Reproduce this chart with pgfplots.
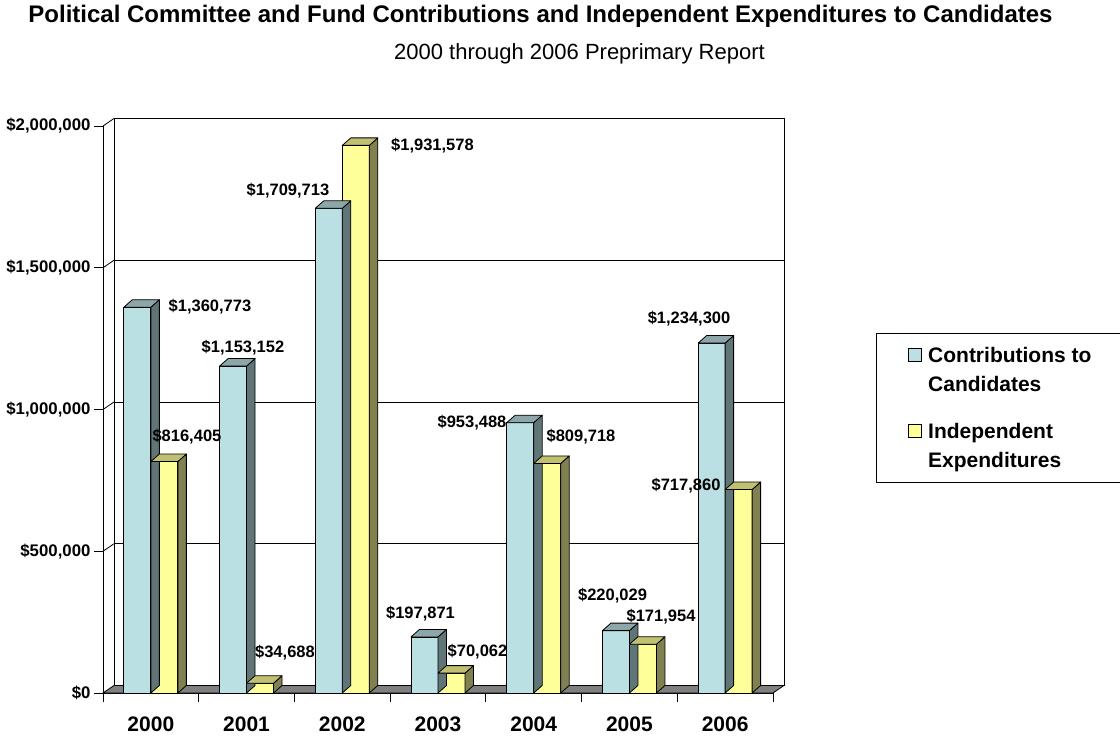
\documentclass[border=0pt]{standalone}
\usepackage{fontspec}
\setmainfont{Liberation Sans}
\usepackage{pgfplots}
\usepackage{pgfplotstable}
\pgfplotsset{compat=1.18}

\definecolor{cfront}{RGB}{187,224,227}
\definecolor{cside}{RGB}{95,117,120}
\definecolor{ctop}{RGB}{140,166,170}
\definecolor{yfront}{RGB}{255,255,153}
\definecolor{yside}{RGB}{128,128,80}
\definecolor{ytop}{RGB}{192,192,112}
\definecolor{floorgray}{RGB}{128,128,128}

\pgfdeclareplotmark{nothing}{}

% ldx, ldy: label offset (pt) from the top centre of the bar
\pgfplotstableread{
x y lab ldx ldy
0 1360773 1,360,773 72.6 0.2
1 1153152 1,153,152 9.9 18.1
2 1709713 1,709,713 -40.8 17.3
3 197871 197,871 -4 22.9
4 953488 953,488 -48.2 -0.3
5 220029 220,029 -3.4 34.6
6 1234300 1,234,300 -22.6 24.1
}\contrib
\pgfplotstableread{
x y lab ldx ldy
0 816405 816,405 22.6 24.6
1 34688 34,688 24.9 30.2
2 1931578 1,931,578 76.7 -0.6
3 70062 70,062 26 21.4
4 809718 809,718 33.8 26.4
5 171954 171,954 18.1 27.6
6 717860 717,860 -52.6 3.5
}\indep

\pgfplotsset{
  sqlegend/.style={legend image code/.code={\draw[##1, line width=0.8pt] (0pt,1pt) rectangle (13pt,14pt);}},
  bluefaces/.style={only marks, mark=nothing, scatter, forget plot,
    point meta=y, point meta min=0, point meta max=2000000,
    scatter/@pre marker code/.code={%
      \pgfmathsetmacro\barH{\pgfplotspointmetatransformed*0.567}%
      \filldraw[fill=cside, draw=black, line width=0.8pt, line join=round]
        (0pt,0pt) -- (0pt,-\barH pt) -- (8.5pt,-\barH pt+7.5pt) -- (8.5pt,7.5pt) -- cycle;
      \filldraw[fill=ctop, draw=black, line width=0.8pt, line join=round]
        (-27pt,0pt) -- (0pt,0pt) -- (8.5pt,7.5pt) -- (-18.5pt,7.5pt) -- cycle;
    },
    scatter/@post marker code/.code={}},
  yellowfaces/.style={only marks, mark=nothing, scatter, forget plot,
    point meta=y, point meta min=0, point meta max=2000000,
    scatter/@pre marker code/.code={%
      \pgfmathsetmacro\barH{\pgfplotspointmetatransformed*0.567}%
      \filldraw[fill=yside, draw=black, line width=0.8pt, line join=round]
        (27pt,0pt) -- (27pt,-\barH pt) -- (35.5pt,-\barH pt+7.5pt) -- (35.5pt,7.5pt) -- cycle;
      \filldraw[fill=ytop, draw=black, line width=0.8pt, line join=round]
        (0pt,0pt) -- (27pt,0pt) -- (35.5pt,7.5pt) -- (8.5pt,7.5pt) -- cycle;
    },
    scatter/@post marker code/.code={}},
  barlabels/.style={nodes near coords={\$\pgfplotspointmeta},
    point meta=explicit symbolic,
    visualization depends on={\thisrow{ldx}\as\ldx},
    visualization depends on={\thisrow{ldy}\as\ldy},
    every node near coord/.append style={font=\fontsize{16.5}{19}\selectfont\bfseries,
      anchor=center, inner sep=0pt, text=black, xshift={\ldx pt+#1}, yshift=\ldy pt}},
}

\begin{document}
\begin{tikzpicture}
\useasboundingbox (0pt,0pt) rectangle (1120pt,740pt);

% back wall
\begin{axis}[
  at={(114pt,54.5pt)}, anchor=south west,
  scale only axis, width=670pt, height=567pt,
  xmin=-0.5, xmax=6.5, ymin=0, ymax=2000000,
  scaled y ticks=false,
  xtick=\empty, ytick={500000,1000000,1500000}, yticklabels={},
  major tick length=0pt, ymajorgrids,
  grid style={black, line width=0.8pt},
  axis line style={black, line width=1pt},
]
\end{axis}

\begin{axis}[
  at={(103pt,47pt)}, anchor=south west,
  scale only axis, width=670pt, height=567pt,
  xmin=-0.5, xmax=6.5, ymin=0, ymax=2000000,
  clip=false,
  axis x line*=bottom, axis y line*=left,
  axis line style={black, line width=0.8pt},
  tick align=outside, major tick length=9pt,
  tick style={black, line width=0.8pt},
  xtick={-0.5,0.5,...,6.5}, x tick label as interval,
  xticklabels={2000,2001,2002,2003,2004,2005,2006},
  ytick={0,500000,1000000,1500000,2000000},
  yticklabels={{\$0},{\$500,000},{\$1,000,000},{\$1,500,000},{\$2,000,000}},
  scaled y ticks=false,
  xticklabel style={font=\fontsize{21}{24}\selectfont\bfseries, yshift=-11pt},
  yticklabel style={font=\fontsize{16.8}{19}\selectfont\bfseries},
  legend cell align=left,
  legend style={at={(1.1537,0.6355)}, anchor=north west,
    draw=black, line width=0.8pt, inner xsep=32pt, inner ysep=14pt,
    font=\fontsize{21}{29}\selectfont\bfseries,
    cells={anchor=base west}, nodes={inner sep=0pt, text depth=30pt},
    row sep=30.7pt,
    /tikz/every odd column/.append style={column sep=6pt}},
]
\filldraw[fill=floorgray, draw=black, line width=0.8pt]
  (axis cs:-0.5,0) -- (axis cs:6.5,0) -- ([shift={(11pt,7.5pt)}]axis cs:6.5,0)
  -- ([shift={(11pt,7.5pt)}]axis cs:-0.5,0) -- cycle;
\draw[black, line width=0.8pt] (axis cs:-0.5,500000) -- ++(11pt,7.5pt);
\draw[black, line width=0.8pt] (axis cs:-0.5,1000000) -- ++(11pt,7.5pt);
\draw[black, line width=0.8pt] (axis cs:-0.5,1500000) -- ++(11pt,7.5pt);
\draw[black, line width=0.8pt] (axis cs:-0.5,2000000) -- ++(11pt,7.5pt);

\addplot[ybar, bar width=27pt, bar shift=-13.5pt, fill=cfront, draw=black, line width=0.8pt,
  barlabels=-13.5pt, sqlegend]
  table[x=x, y=y, meta=lab] {\contrib};
\addlegendentry{\parbox[t]{175pt}{Contributions to\\Candidates}}
\addplot[bluefaces] table[x=x, y=y] {\contrib};

\addplot[ybar, bar width=27pt, bar shift=13.5pt, fill=yfront, draw=black, line width=0.8pt,
  barlabels=13.5pt, sqlegend]
  table[x=x, y=y, meta=lab] {\indep};
\addlegendentry{\parbox[t]{175pt}{Independent\\Expenditures}}
\addplot[yellowfaces] table[x=x, y=y] {\indep};
\end{axis}

\node[anchor=base, font=\fontsize{24}{28}\selectfont\bfseries] at (540.5pt,717.3pt)
  {Political Committee and Fund Contributions and Independent Expenditures to Candidates};
\node[anchor=base, font=\fontsize{22}{26}\selectfont] at (579.5pt,680.7pt)
  {2000 through 2006 Preprimary Report};
\end{tikzpicture}
\end{document}
